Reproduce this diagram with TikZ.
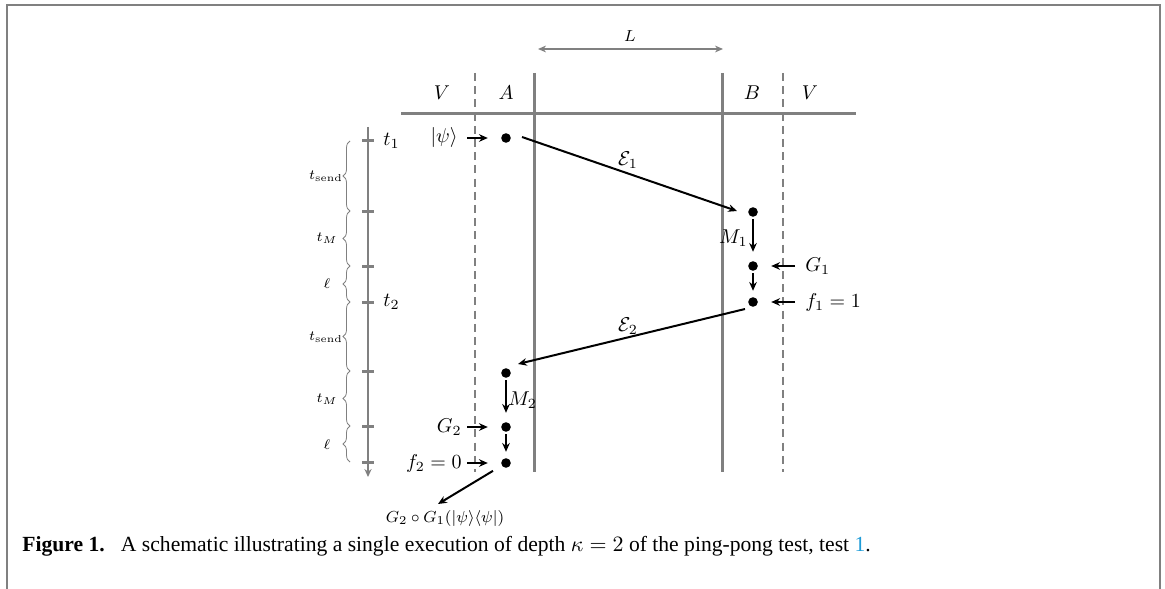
\documentclass[tikz,border=0pt]{standalone}
\usepackage{fontspec}
\newfontfamily\capfont{Liberation Serif}
\usetikzlibrary{arrows.meta,decorations.pathreplacing}
\definecolor{linegray}{HTML}{808080}
\definecolor{linkblue}{HTML}{1E9BD7}
\begin{document}
\begin{tikzpicture}[x=0.5pt,y=-0.5pt,
  dot/.style={circle,fill=black,inner sep=0pt,minimum size=4.8pt},
  lab/.style={inner sep=0pt},
  smalllab/.style={inner sep=0pt,font=\footnotesize},
  bracelab/.style={inner sep=0pt,font=\fontsize{7}{8}\selectfont},
  flow/.style={-{Stealth[length=4.4pt,width=3.8pt]},line width=1pt,black},
  vflow/.style={flow,shorten <=1pt,shorten >=3pt},
  inflow/.style={flow,shorten >=6.5pt},
  wall/.style={linegray,line width=1.5pt},
  fence/.style={linegray,line width=1pt,dash pattern=on 4pt off 2.6pt},
  tick/.style={linegray,line width=1.5pt},
  timebrace/.style={linegray,line width=0.4pt,decorate,decoration={brace,amplitude=3.5pt}},
  frame/.style={linegray,line width=1pt}
]
\useasboundingbox (0,0) rectangle (1165,588);
% frame
\draw[frame] (7,600) -- (7,5) -- (1160,5) -- (1160,600);

% walls
\draw[wall] (401,114) -- (856,114);
\draw[wall] (534,73) -- (534,472);
\draw[wall] (722,73) -- (722,472);
\draw[fence] (475,73) -- (475,472);
\draw[fence] (783,73) -- (783,472);

% region labels
\node[lab] (vl) at (442,93) {$V$};
\node[lab] (al) at (506,93) {$A$};
\node[lab] (bl) at (752,93) {$B$};
\node[lab] (vr) at (810,93) {$V$};

% L arrow
\coordinate (la) at (538,49);
\coordinate (lb) at (723,49);
\draw[linegray,line width=0.9pt,{Stealth[length=4pt,width=3.4pt]}-{Stealth[length=4pt,width=3.4pt]}] (la) -- (lb);
\node[smalllab] (L) at (630,36) {$L$};

% time axis
\draw[linegray,line width=1.2pt,-{Stealth[length=4pt,width=3.6pt]}] (368,127) -- (368,477);
\foreach \y in {141,211,266,302,371,426,462}
  \draw[tick] (362,\y) -- (374,\y);
\node[lab,anchor=west] (t1) at (383,141) {$t_1$};
\node[lab,anchor=west] (t2) at (383,302) {$t_2$};

% braces
\draw[timebrace] (350,211) -- (350,141);
\draw[timebrace] (350,266) -- (350,211);
\draw[timebrace] (350,302) -- (350,266);
\draw[timebrace] (350,371) -- (350,302);
\draw[timebrace] (350,426) -- (350,371);
\draw[timebrace] (350,462) -- (350,426);
\node[bracelab] (ts1) at (326,176) {$t_{\mathrm{send}}$};
\node[bracelab] (tm1) at (327,238) {$t_M$};
\node[bracelab] (el1) at (327,284) {$\ell$};
\node[bracelab] (ts2) at (326,337) {$t_{\mathrm{send}}$};
\node[bracelab] (tm2) at (327,399) {$t_M$};
\node[bracelab] (el2) at (327,445) {$\ell$};

% dots
\node[dot] (a1) at (506,138) {};
\node[dot] (b1) at (753,212) {};
\node[dot] (b2) at (753,266) {};
\node[dot] (b3) at (753,302) {};
\node[dot] (a2) at (506,373) {};
\node[dot] (a3) at (506,427) {};
\node[dot] (a4) at (506,463) {};

% inputs
\node[lab,anchor=east] (psi) at (458,138) {$|\psi\rangle$};
\node[lab,anchor=west] (g1) at (805,266) {$G_1$};
\node[lab,anchor=west] (f1) at (805,302) {$f_1 = 1$};
\node[lab,anchor=east] (g2) at (462,427) {$G_2$};
\node[lab,anchor=east] (f2) at (462,463) {$f_2 = 0$};

\draw[inflow,shorten <=4.5pt] (psi) -- (a1);
\draw[inflow,shorten <=5pt] (g1) -- (b2);
\draw[inflow,shorten <=5pt] (f1.west) -- (b3);
\draw[inflow,shorten <=2.5pt] (g2) -- (a3);
\draw[inflow,shorten <=2.5pt] (f2.east) -- (a4);

% transmissions
\draw[flow] ([shift={(16,-1)}]a1.center) -- ([shift={(-16,-1)}]b1.center);
\node[lab] (e1) at (628,160) {$\mathcal{E}_1$};
\draw[flow] ([shift={(-8,7)}]b3.center) -- ([shift={(12,-9)}]a2.center);
\node[lab] (e2) at (628,326) {$\mathcal{E}_2$};

% local steps
\draw[vflow,shorten >=4.5pt] (b1) -- (b2);
\node[lab,anchor=east] (m1) at (748,238) {$M_1$};
\draw[vflow] (b2) -- (b3);
\draw[vflow,shorten >=4.5pt] (a2) -- (a3);
\node[lab,anchor=west] (m2) at (508,400) {$M_2$};
\draw[vflow] (a3) -- (a4);

% output
\node[smalllab] (res) at (445,518) {$G_2\circ G_1(|\psi\rangle\langle\psi|)$};
\coordinate (resend) at (438,504);
\draw[flow,shorten <=5pt] (a4) -- (resend);

% caption
\node[lab,anchor=base west,font=\capfont\fontsize{10.8}{12}\selectfont] (cap) at (22,551)
  {\textbf{Figure 1.}\enspace\ A schematic illustrating a single execution of depth $\kappa = 2$ of the ping-pong test, test \textcolor{linkblue}{1}.};
\end{tikzpicture}
\end{document}
